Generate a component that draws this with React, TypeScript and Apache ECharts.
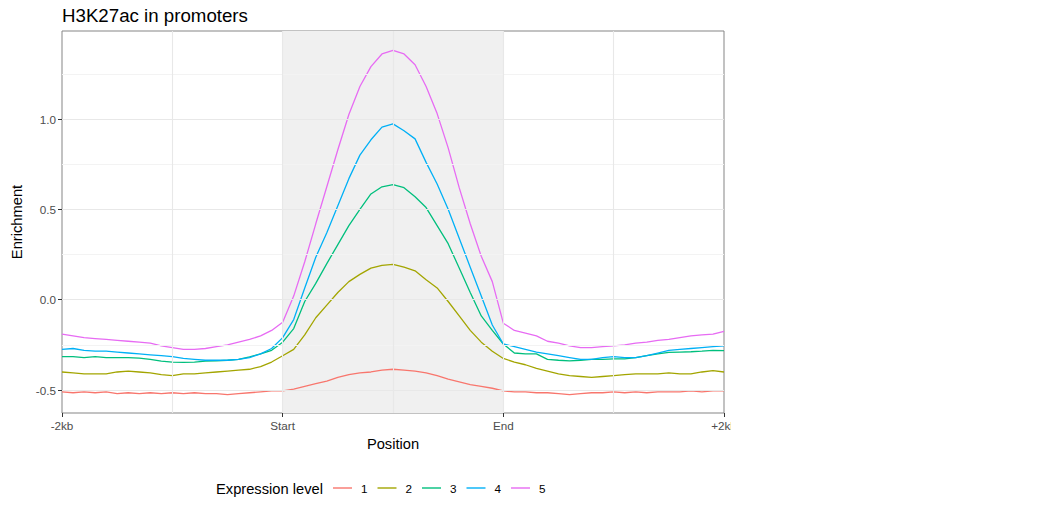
import React, { useRef, useEffect } from 'react';
import * as echarts from 'echarts';

// positions along the promoter, 0 = -2kb, 1 = Start, 2 = End, 3 = +2kb
const positions: number[] = Array.from({ length: 61 }, (_, i) => +(i * 0.05).toFixed(2));

const xTickLabels = ['-2kb', 'Start', 'End', '+2kb'];
const yTicks = [-0.5, 0, 0.5, 1.0];

const level1 = [
  -0.51, -0.515, -0.51, -0.515, -0.51, -0.52, -0.515, -0.52, -0.515, -0.52,
  -0.515, -0.52, -0.515, -0.52, -0.52, -0.525, -0.52, -0.515, -0.51, -0.505,
  -0.505, -0.495, -0.48, -0.465, -0.45, -0.43, -0.415, -0.405, -0.4, -0.39,
  -0.385, -0.39, -0.395, -0.405, -0.42, -0.44, -0.455, -0.47, -0.48, -0.49,
  -0.505, -0.51, -0.51, -0.515, -0.515, -0.52, -0.525, -0.52, -0.515, -0.515,
  -0.51, -0.515, -0.51, -0.515, -0.51, -0.51, -0.51, -0.505, -0.51, -0.505,
  -0.505,
];
const level2 = [
  -0.4, -0.405, -0.41, -0.41, -0.41, -0.4, -0.395, -0.4, -0.405, -0.415,
  -0.42, -0.41, -0.41, -0.405, -0.4, -0.395, -0.39, -0.385, -0.37, -0.345,
  -0.31, -0.275, -0.195, -0.1, -0.03, 0.04, 0.1, 0.14, 0.175, 0.19,
  0.195, 0.18, 0.16, 0.11, 0.065, -0.01, -0.09, -0.17, -0.235, -0.285,
  -0.325, -0.345, -0.36, -0.38, -0.395, -0.41, -0.42, -0.425, -0.43, -0.425,
  -0.42, -0.415, -0.41, -0.41, -0.41, -0.405, -0.41, -0.41, -0.4, -0.393,
  -0.4,
];
const level3 = [
  -0.315, -0.315, -0.32, -0.315, -0.32, -0.32, -0.32, -0.323, -0.33, -0.34,
  -0.345, -0.347, -0.345, -0.34, -0.338, -0.335, -0.33, -0.316, -0.3, -0.28,
  -0.235, -0.16, -0.01, 0.09, 0.2, 0.305, 0.41, 0.5, 0.585, 0.625,
  0.637, 0.62, 0.57, 0.51, 0.41, 0.31, 0.175, 0.04, -0.09, -0.17,
  -0.245, -0.295, -0.3, -0.3, -0.33, -0.335, -0.338, -0.335, -0.33, -0.33,
  -0.328, -0.328, -0.32, -0.31, -0.3, -0.292, -0.29, -0.288, -0.285, -0.28,
  -0.282,
];
const level4 = [
  -0.275, -0.27, -0.28, -0.285, -0.285, -0.29, -0.295, -0.3, -0.305, -0.31,
  -0.315, -0.325, -0.33, -0.335, -0.335, -0.335, -0.33, -0.32, -0.3, -0.27,
  -0.21, -0.11, 0.065, 0.235, 0.37, 0.52, 0.67, 0.8, 0.885, 0.955,
  0.973, 0.935, 0.89, 0.76, 0.64, 0.5, 0.34, 0.18, 0.02, -0.14,
  -0.245, -0.26, -0.275, -0.29, -0.3, -0.31, -0.32, -0.33, -0.33, -0.32,
  -0.315, -0.32, -0.32, -0.31, -0.295, -0.28, -0.275, -0.27, -0.265, -0.26,
  -0.255,
];
const level5 = [
  -0.19, -0.2, -0.21, -0.215, -0.22, -0.225, -0.23, -0.235, -0.24, -0.255,
  -0.265, -0.275, -0.275, -0.27, -0.26, -0.25, -0.235, -0.22, -0.2, -0.17,
  -0.125, 0.02, 0.21, 0.42, 0.625, 0.83, 1.025, 1.18, 1.29, 1.36,
  1.38, 1.36, 1.3, 1.18, 1.03, 0.84, 0.62, 0.42, 0.24, 0.1,
  -0.13, -0.17, -0.185, -0.2, -0.23, -0.24, -0.255, -0.265, -0.265, -0.26,
  -0.255, -0.25, -0.24, -0.235, -0.225, -0.22, -0.21, -0.2, -0.195, -0.19,
  -0.175,
];

const levels = ['1', '2', '3', '4', '5'];
const levelValues = [level1, level2, level3, level4, level5];
const colors = ['#F8766D', '#A3A500', '#00BF7D', '#00B0F6', '#E76BF3'];

const majorY = [-0.5, 0, 0.5, 1.0];
const minorY = [-0.25, 0.25, 0.75, 1.25];
const gridX = [0.5, 1, 1.5, 2, 2.5];

const FONT = '"Liberation Sans", Arial, sans-serif';

const App: React.FC = () => {
  const chartRef = useRef<HTMLDivElement>(null);

  useEffect(() => {
    if (!chartRef.current) return;
    const chart = echarts.init(chartRef.current, undefined, { renderer: 'svg' });

    const option: any = {
      animation: false,
      backgroundColor: '#ffffff',
      textStyle: { fontFamily: FONT },
      title: {
        text: 'H3K27ac in promoters',
        left: 57,
        top: 1,
        textStyle: { fontSize: 18.7, fontWeight: 'normal', color: '#000', fontFamily: FONT },
      },
      grid: {
        left: 62,
        right: 7,
        top: 31,
        bottom: 96,
        outerBoundsMode: 'none',
        containLabel: false,
        show: true,
        borderColor: '#858585',
        borderWidth: 1,
        backgroundColor: 'transparent',
      },
      xAxis: {
        type: 'value',
        min: 0,
        max: 3,
        interval: 1,
        name: 'Position',
        nameLocation: 'middle',
        nameGap: 23,
        nameTextStyle: { fontSize: 14.7, color: '#000', fontFamily: FONT },
        axisLine: { show: false, onZero: false },
        axisTick: { show: true, length: 4, lineStyle: { color: '#333', width: 1 } },
        axisLabel: {
          fontSize: 11.7,
          color: '#4d4d4d',
          margin: 6,
          fontFamily: FONT,
          formatter: (v: number) => xTickLabels[Math.round(v)] ?? '',
        },
        splitLine: { show: false },
      },
      yAxis: {
        type: 'value',
        min: -0.627,
        max: 1.487,
        name: 'Enrichment',
        nameLocation: 'middle',
        nameGap: 35,
        nameTextStyle: { fontSize: 14.7, color: '#000', fontFamily: FONT },
        axisLine: { show: false, onZero: false },
        axisTick: { show: true, length: 4, customValues: yTicks, lineStyle: { color: '#333', width: 1 } },
        axisLabel: {
          fontSize: 11.7,
          color: '#4d4d4d',
          margin: 6,
          fontFamily: FONT,
          customValues: yTicks,
          formatter: (v: number) => v.toFixed(1),
        },
        splitLine: { show: false },
      },
      legend: {
        data: levels,
        icon: 'rect',
        left: 328,
        top: 477,
        itemWidth: 19,
        itemHeight: 1.4,
        itemGap: 10,
        textStyle: { fontSize: 11.7, color: '#000', fontFamily: FONT, padding: [0, 0, 0, 4] },
      },
      graphic: [
        {
          type: 'text',
          left: 216,
          top: 481,
          style: { text: 'Expression level', fontSize: 14.7, fill: '#000', fontFamily: FONT },
        },
      ],
      series: [
        {
          name: 'region',
          type: 'line',
          data: [],
          silent: true,
          z: 1,
          markArea: {
            silent: true,
            itemStyle: { color: '#f0f0f0' },
            data: [[{ xAxis: 1 }, { xAxis: 2 }]],
          },
        },
        {
          name: 'grid',
          type: 'line',
          data: [],
          silent: true,
          z: 2,
          markLine: {
            silent: true,
            symbol: 'none',
            label: { show: false },
            animation: false,
            data: [
              ...minorY.map((v) => ({ yAxis: v, lineStyle: { color: '#f3f3f3', width: 1, type: 'solid' } })),
              ...majorY.map((v) => ({ yAxis: v, lineStyle: { color: '#e8e8e8', width: 1.2, type: 'solid' } })),
              ...gridX.map((v) => ({ xAxis: v, lineStyle: { color: '#e8e8e8', width: 1.1, type: 'solid' } })),
            ],
          },
        },
        ...levels.map((name, i) => ({
          name,
          type: 'line',
          z: 3,
          symbol: 'none',
          data: positions.map((p, j) => [p, levelValues[i][j]]),
          lineStyle: { color: colors[i], width: 1.3 },
          itemStyle: { color: colors[i] },
        })),
      ],
    };

    chart.setOption(option);
    return () => {
      chart.dispose();
    };
  }, []);

  return (
    <div
      ref={chartRef}
      style={{ position: 'fixed', left: 0, top: 0, width: 731, height: 509 }}
    />
  );
};

export default App;
